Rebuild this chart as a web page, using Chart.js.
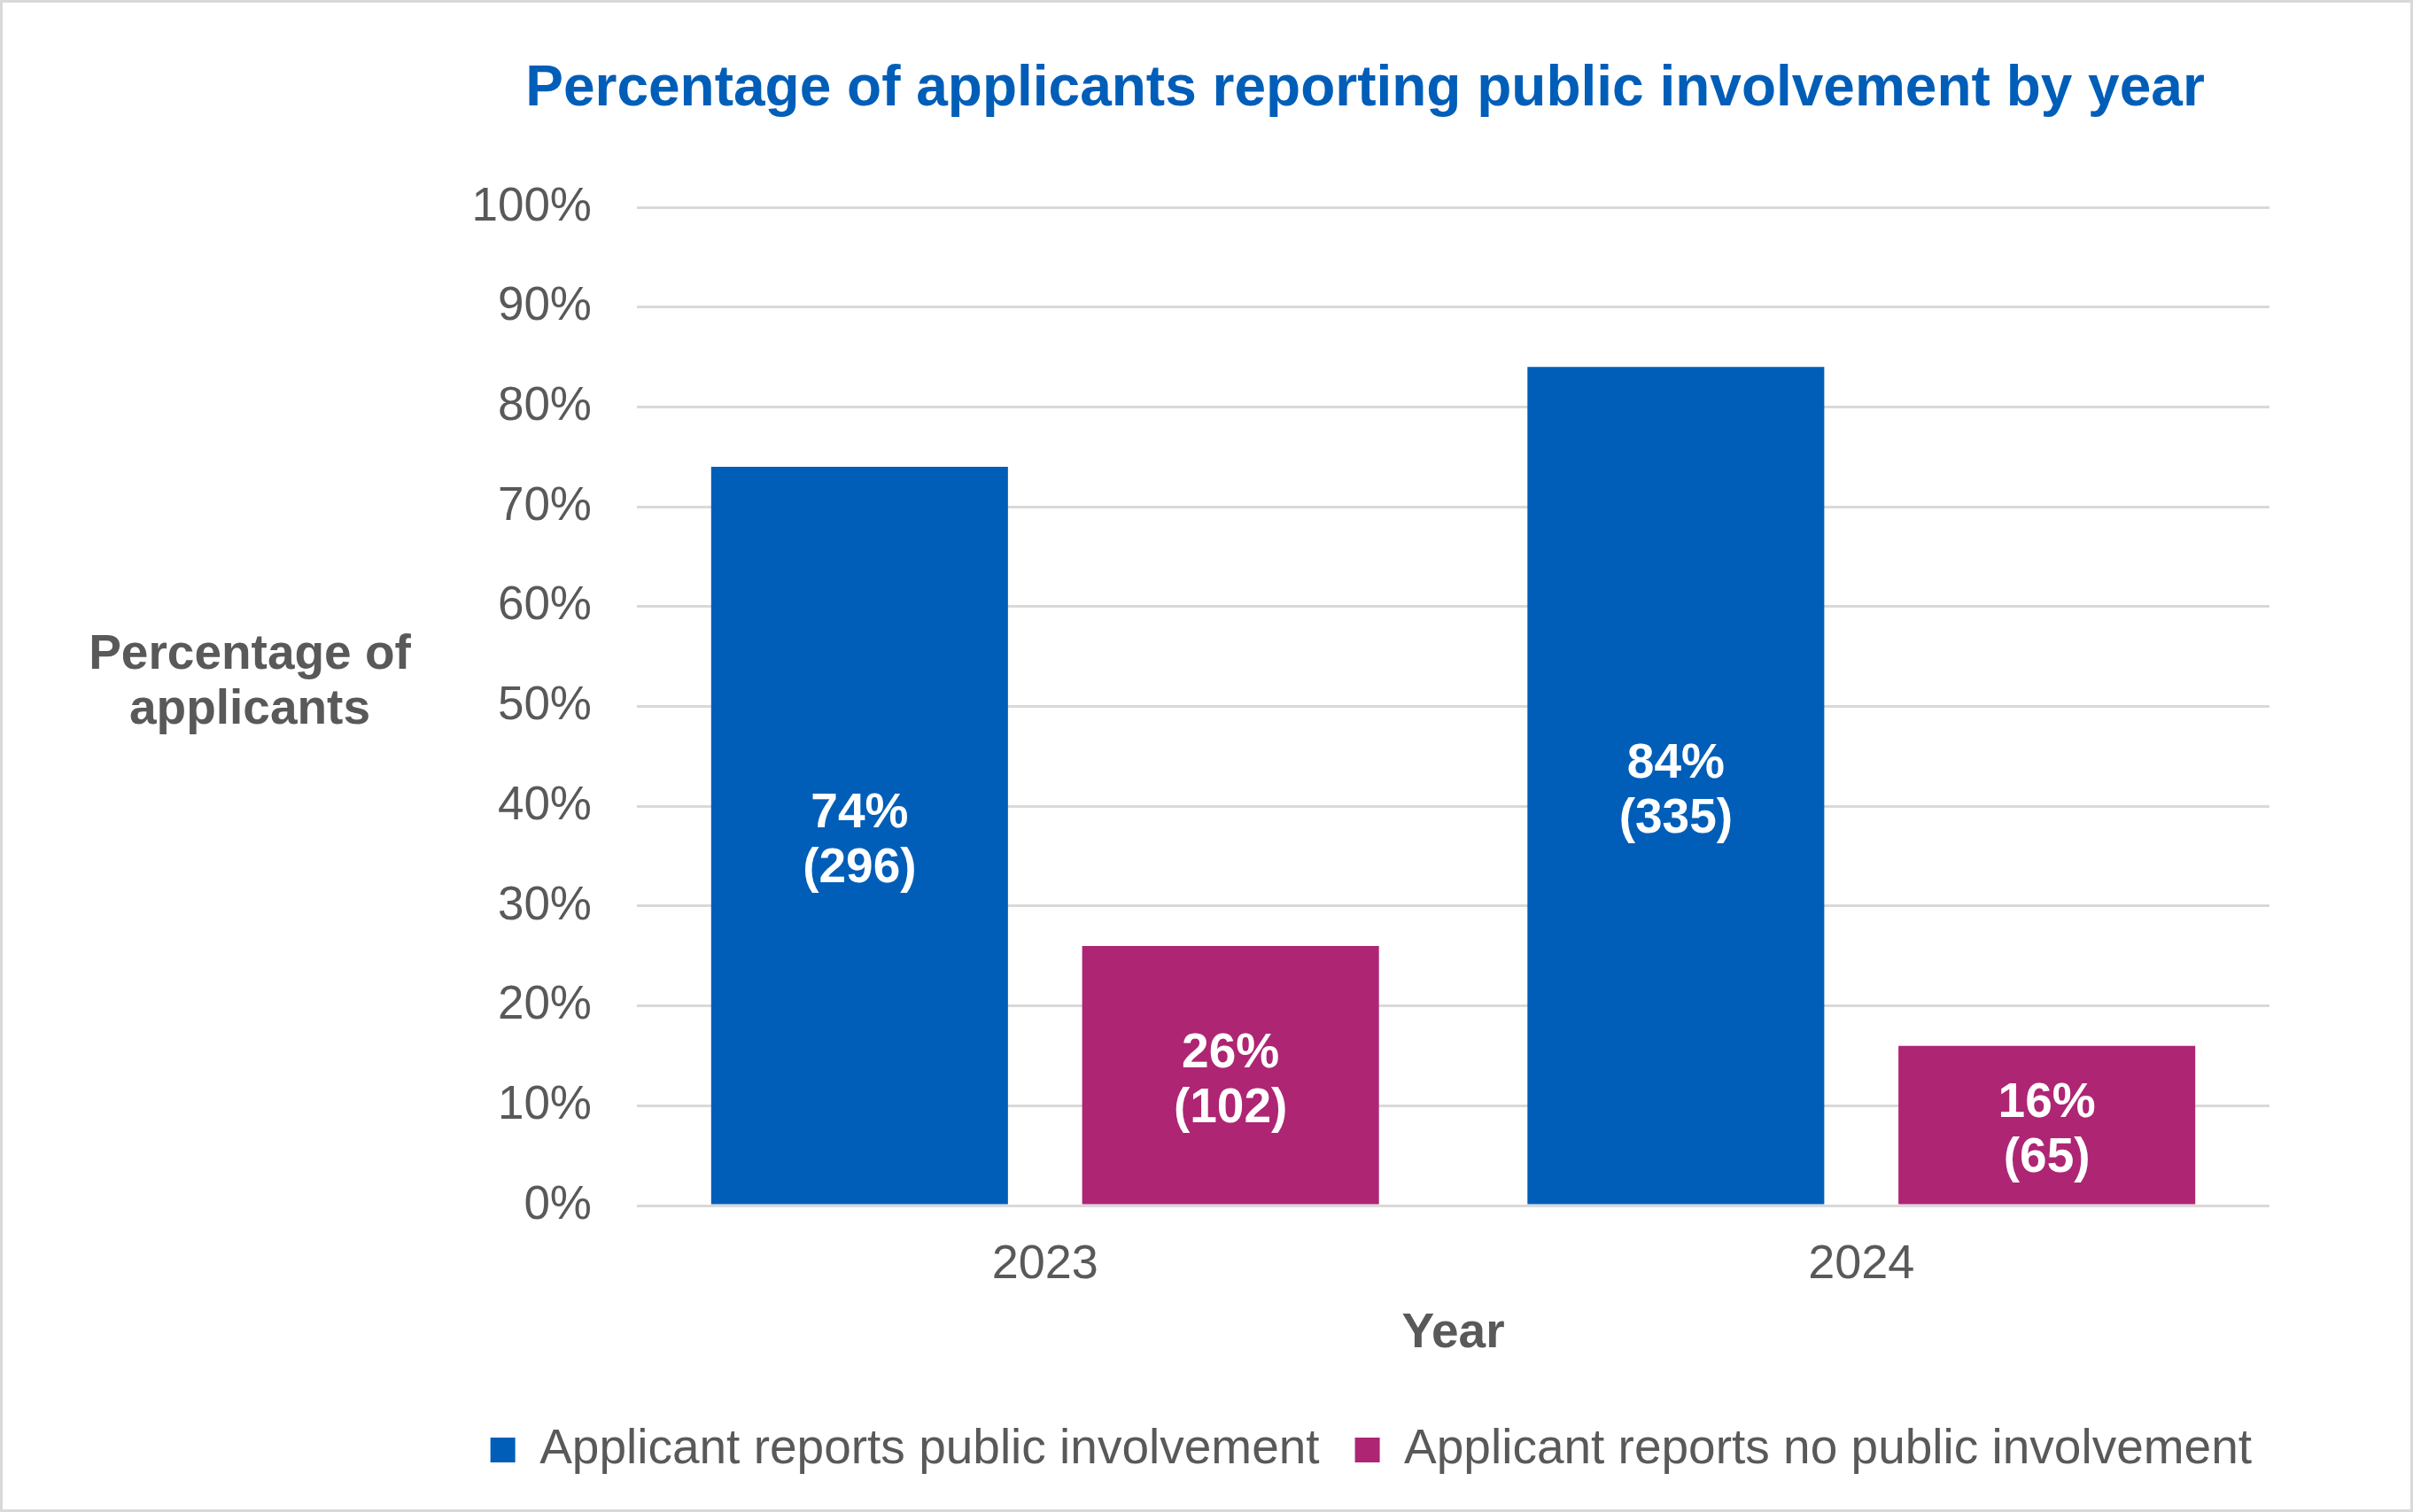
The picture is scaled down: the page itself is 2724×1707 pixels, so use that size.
<!DOCTYPE html>
<html>
<head>
<meta charset="utf-8">
<title>Percentage of applicants reporting public involvement by year</title>
<script src="https://cdn.jsdelivr.net/npm/chart.js"></script>
<style>
  html, body { margin: 0; padding: 0; background: #fff; }
  canvas { display: block; }
</style>
</head>
<body>
<canvas id="involvementChart" width="2724" height="1707"></canvas>
<script>
const years = ['2023', '2024'];
const involvedPct = [74, 84];
const involvedCount = [296, 335];
const notInvolvedPct = [26, 16];
const notInvolvedCount = [102, 65];
const seriesLabels = ['Applicant reports public involvement', 'Applicant reports no public involvement'];
const yTickValues = [0, 10, 20, 30, 40, 50, 60, 70, 80, 90, 100];
const yAxisTitle = ['Percentage of', 'applicants'];

const FONT = "'Liberation Sans', Arial, sans-serif";
const GREY = '#595959';
const GRID = '#d9d9d9';
const PAD_LEFT = 500;   // keeps the title centred where the original has it
const PLOT_LEFT = 719;
const RIGHT_GUTTER = 20;

// white background + thin grey frame round the whole picture
const frame = {
    id: 'frame',
    beforeDraw: function(chart) {
        const ctx = chart.ctx;
        ctx.save();
        ctx.fillStyle = '#fff';
        ctx.fillRect(0, 0, chart.width, chart.height);
        ctx.restore();
    },
    afterDraw: function(chart) {
        const ctx = chart.ctx;
        ctx.save();
        ctx.strokeStyle = GRID;
        ctx.lineWidth = 3;
        ctx.strokeRect(1.5, 1.5, chart.width - 3, chart.height - 3);
        ctx.restore();
    }
};

// horizontal (not rotated) y axis title, like the original
const yTitle = {
    id: 'yTitle',
    afterDraw: function(chart) {
        const ctx = chart.ctx;
        ctx.save();
        ctx.font = 'bold 55px ' + FONT;
        ctx.fillStyle = GREY;
        ctx.textAlign = 'center';
        ctx.textBaseline = 'middle';
        yAxisTitle.forEach(function(line, i) {
            ctx.fillText(line, 282, 740 + i * 62);
        });
        ctx.restore();
    }
};

// "74%" / "(296)" inside each bar
const barLabels = {
    id: 'barLabels',
    afterDatasetsDraw: function(chart) {
        const ctx = chart.ctx;
        ctx.save();
        ctx.font = 'bold 55px ' + FONT;
        ctx.fillStyle = '#fff';
        ctx.textAlign = 'center';
        ctx.textBaseline = 'middle';
        chart.data.datasets.forEach(function(ds, di) {
            chart.getDatasetMeta(di).data.forEach(function(bar, i) {
                const mid = (bar.y + bar.base) / 2;
                ctx.fillText(ds.data[i] + '%', bar.x, mid - 24);
                ctx.fillText('(' + ds.counts[i] + ')', bar.x, mid + 38);
            });
        });
        ctx.restore();
    }
};

new Chart(document.getElementById('involvementChart'), {
    type: 'bar',
    data: {
        labels: years,
        datasets: [{
            label: seriesLabels[0],
            data: involvedPct,
            counts: involvedCount,
            backgroundColor: '#005EB8'
        }, {
            label: seriesLabels[1],
            data: notInvolvedPct,
            counts: notInvolvedCount,
            backgroundColor: '#AE2573'
        }]
    },
    options: {
        responsive: false,
        devicePixelRatio: 1,
        animation: false,
        categoryPercentage: 0.909,
        barPercentage: 0.8,
        layout: {
            padding: { top: 0, left: PAD_LEFT, right: 162 - RIGHT_GUTTER, bottom: 32.5 }
        },
        plugins: {
            title: {
                display: true,
                text: 'Percentage of applicants reporting public involvement by year',
                align: 'center',
                color: '#005EB8',
                font: { family: FONT, size: 64, weight: 'bold', lineHeight: 1.2 },
                padding: { top: 63, bottom: 94.2 }
            },
            legend: {
                position: 'bottom',
                align: 'end',
                labels: {
                    color: GREY,
                    font: { family: FONT, size: 55 },
                    boxWidth: 28,
                    boxHeight: 28,
                    padding: 40
                }
            },
            tooltip: { enabled: false }
        },
        scales: {
            x: {
                grid: { display: false },
                border: { display: false },
                ticks: {
                    color: GREY,
                    font: { family: FONT, size: 54, lineHeight: 1.2 },
                    padding: 27
                },
                title: {
                    display: true,
                    text: 'Year',
                    color: GREY,
                    font: { family: FONT, size: 55, weight: 'bold', lineHeight: 0.6545 },
                    padding: { top: 0, bottom: 45.7 }
                }
            },
            y: {
                min: 0,
                max: 100,
                afterFit: function(scale) { scale.width = PLOT_LEFT - PAD_LEFT; },
                afterBuildTicks: function(scale) {
                    scale.ticks = yTickValues.map(function(v) { return { value: v }; });
                },
                grid: { color: GRID, lineWidth: 3, drawTicks: false },
                border: { display: false },
                ticks: {
                    color: GREY,
                    font: { family: FONT, size: 53 },
                    padding: 51,
                    callback: function(v) { return v + '%'; }
                }
            },
            // empty right-hand gutter, so title and legend can reach a bit past the plot
            yGutter: {
                position: 'right',
                min: 0,
                max: 100,
                afterFit: function(scale) { scale.width = RIGHT_GUTTER; },
                grid: { display: false },
                border: { display: false },
                ticks: { display: false }
            }
        }
    },
    plugins: [frame, yTitle, barLabels]
});
</script>
</body>
</html>
